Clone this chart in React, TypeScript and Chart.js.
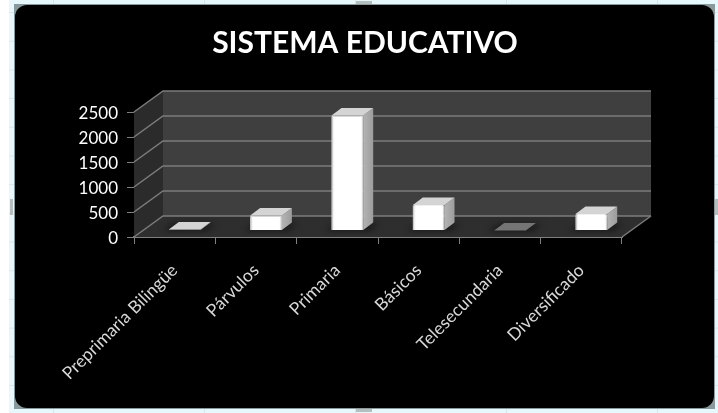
import React, { useEffect, useRef } from "react";
import { Chart, registerables } from "chart.js";

Chart.register(...registerables);

const categories = ["Preprimaria Bilingüe", "Párvulos", "Primaria", "Básicos", "Telesecundaria", "Diversificado"];
const students = [20, 300, 2300, 510, 0, 330];
const yTicks = [0, 500, 1000, 1500, 2000, 2500];
const chartTitle = "SISTEMA EDUCATIVO";

const DEPTH_X = 29;
const DEPTH_Y = -21;
const BAR_SHIFT_X = 10;
const BAR_SHIFT_Y = -6.5;
const BAR_DX = 10;
const BAR_DY = -7.5;
const TITLE_SHIFT = 54;

const poly = (c: CanvasRenderingContext2D, pts: number[][], fill: any) => {
  c.beginPath();
  pts.forEach((p, i) => (i ? c.lineTo(p[0], p[1]) : c.moveTo(p[0], p[1])));
  c.closePath();
  c.fillStyle = fill;
  c.fill();
};

const box3d = {
  id: "box3d",
  afterLayout(chart: any) {
    if (chart.titleBlock) {
      chart.titleBlock.left += TITLE_SHIFT;
      chart.titleBlock.right += TITLE_SHIFT;
    }
  },
  beforeDatasetsDraw(chart: any) {
    const { ctx: c, chartArea: a, scales } = chart;
    const y = scales.y;
    const bL = a.left + DEPTH_X, bR = a.right + DEPTH_X;
    const bT = a.top + DEPTH_Y, bB = a.bottom + DEPTH_Y;
    c.save();
    poly(c, [[bL, bT], [bR, bT], [bR, bB], [bL, bB]], "#3f3f3f");
    poly(c, [[a.left, a.top], [bL, bT], [bL, bB], [a.left, a.bottom]], "#2b2b2b");
    poly(c, [[a.left, a.bottom], [a.right, a.bottom], [bR, bB], [bL, bB]], "#2e2e2e");
    c.strokeStyle = "#7c7c7c";
    c.lineWidth = 1.5;
    yTicks.forEach((v) => {
      const py = y.getPixelForValue(v);
      c.beginPath();
      c.moveTo(a.left, py);
      c.lineTo(bL, py + DEPTH_Y);
      c.lineTo(bR, py + DEPTH_Y);
      c.stroke();
    });
    c.beginPath();
    c.moveTo(a.right, a.bottom);
    c.lineTo(bR, bB);
    c.stroke();
    const meta = chart.getDatasetMeta(0);
    c.filter = "blur(3px)";
    meta.data.forEach((el: any) => {
      const l = el.x + BAR_SHIFT_X - el.width / 2 - 6;
      const r = el.x + BAR_SHIFT_X + el.width / 2 + 6;
      const b = el.base + BAR_SHIFT_Y + 1;
      poly(c, [[l, b], [r, b], [r + BAR_DX, b + BAR_DY], [l + BAR_DX, b + BAR_DY]], "rgba(0,0,0,0.45)");
    });
    c.restore();
  },
  beforeDatasetDraw(chart: any) {
    chart.ctx.save();
    chart.ctx.translate(BAR_SHIFT_X, BAR_SHIFT_Y);
  },
  afterDatasetDraw(chart: any) {
    const c = chart.ctx;
    chart.getDatasetMeta(0).data.forEach((el: any, i: number) => {
      const l = el.x - el.width / 2, r = el.x + el.width / 2;
      const t = el.y, b = el.base;
      const side = c.createLinearGradient(r, 0, r + BAR_DX, 0);
      side.addColorStop(0, "#b4b4b4");
      side.addColorStop(1, "#9c9c9c");
      poly(c, [[r, t], [r + BAR_DX, t + BAR_DY], [r + BAR_DX, b + BAR_DY], [r, b]], side);
      poly(
        c,
        [[l, t], [r, t], [r + BAR_DX, t + BAR_DY], [l + BAR_DX, t + BAR_DY]],
        students[i] === 0 ? "#757575" : "#d4d4d4"
      );
      if (b - t > 4) {
        const shade = c.createLinearGradient(l, 0, r, 0);
        shade.addColorStop(0, "rgba(190,190,190,0.8)");
        shade.addColorStop(0.12, "rgba(255,255,255,0)");
        shade.addColorStop(0.9, "rgba(255,255,255,0)");
        shade.addColorStop(1, "rgba(200,200,200,0.7)");
        poly(c, [[l, t], [r, t], [r, b], [l, b]], shade);
      }
    });
    c.restore();
  },
};

const handle = (style: React.CSSProperties) => (
  <div style={{ position: "absolute", backgroundColor: "#b4bebf", ...style }} />
);

export default function App() {
  const ref = useRef<HTMLCanvasElement>(null);
  useEffect(() => {
    document.body.style.margin = "0";
    const chart = new Chart(ref.current!, {
      type: "bar",
      data: {
        labels: categories,
        datasets: [
          {
            label: "Estudiantes",
            data: students,
            backgroundColor: "#ffffff",
            borderColor: "#f0f0f0",
            borderWidth: 1,
            borderRadius: 2,
            categoryPercentage: 1,
            barPercentage: 0.39,
          },
        ],
      },
      plugins: [box3d],
      options: {
        animation: false,
        responsive: false,
        layout: { padding: { left: 0, right: 96, top: 0, bottom: 0 } },
        plugins: {
          legend: { display: false },
          tooltip: { enabled: false },
          title: {
            display: true,
            text: chartTitle,
            color: "#ffffff",
            font: { family: "Lato", size: 30, weight: "bold" },
            padding: { top: 25, bottom: 51 },
            align: "center",
          },
        },
        scales: {
          x: {
            grid: { drawOnChartArea: false, color: "#808080", tickLength: 7, lineWidth: 1 },
            border: { color: "#808080", width: 2 },
            ticks: {
              color: "#d8d8d8",
              font: { family: "Lato", size: 17.5 },
              minRotation: 45,
              maxRotation: 45,
              autoSkip: false,
              padding: 16,
            },
            afterFit: (s: any) => {
              s.height = 176;
            },
          },
          y: {
            min: 0,
            max: 2500,
            grid: { drawOnChartArea: false, color: "#808080", tickLength: 7 },
            border: { color: "#808080", width: 1 },
            afterBuildTicks: (s: any) => {
              s.ticks = yTicks.map((value) => ({ value }));
            },
            ticks: {
              color: "#ffffff",
              font: { family: "Lato", size: 17 },
              padding: 9,
              labelOffset: 2,
              callback: (v: any) => String(v),
            },
            afterFit: (s: any) => {
              s.width = 134;
            },
          },
        },
      },
    } as any);
    return () => chart.destroy();
  }, []);

  return (
    <div
      style={{
        position: "fixed",
        left: 0,
        top: 0,
        width: 718,
        height: 413,
        overflow: "hidden",
        backgroundColor: "#ffffff",
      }}
    >
      <div
        style={{
          position: "absolute",
          left: 9,
          top: 0,
          width: 709,
          height: 413,
          backgroundColor: "#e6f8fb",
          backgroundImage:
            "linear-gradient(#d6e8ea 1px, transparent 1px), linear-gradient(90deg, #d6e8ea 1px, transparent 1px)",
          backgroundSize: "151px 28.7px",
          backgroundPosition: "44px 12px",
        }}
      />
      <div style={{ position: "absolute", left: 14, top: 4, width: 701, height: 405, backgroundColor: "#8a9a9c" }} />
      <div
        style={{
          position: "absolute",
          left: 15,
          top: 5,
          width: 699,
          height: 403,
          backgroundColor: "#000000",
          borderRadius: 12,
        }}
      />
      {handle({ left: 356, top: 1, width: 16, height: 3 })}
      {handle({ left: 356, top: 409, width: 16, height: 3 })}
      {handle({ left: 10, top: 199, width: 3, height: 16 })}
      {handle({ left: 715, top: 199, width: 3, height: 16 })}
      <canvas
        ref={ref}
        width={718}
        height={413}
        style={{ position: "absolute", left: 0, top: 0, width: 718, height: 413 }}
      />
    </div>
  );
}
